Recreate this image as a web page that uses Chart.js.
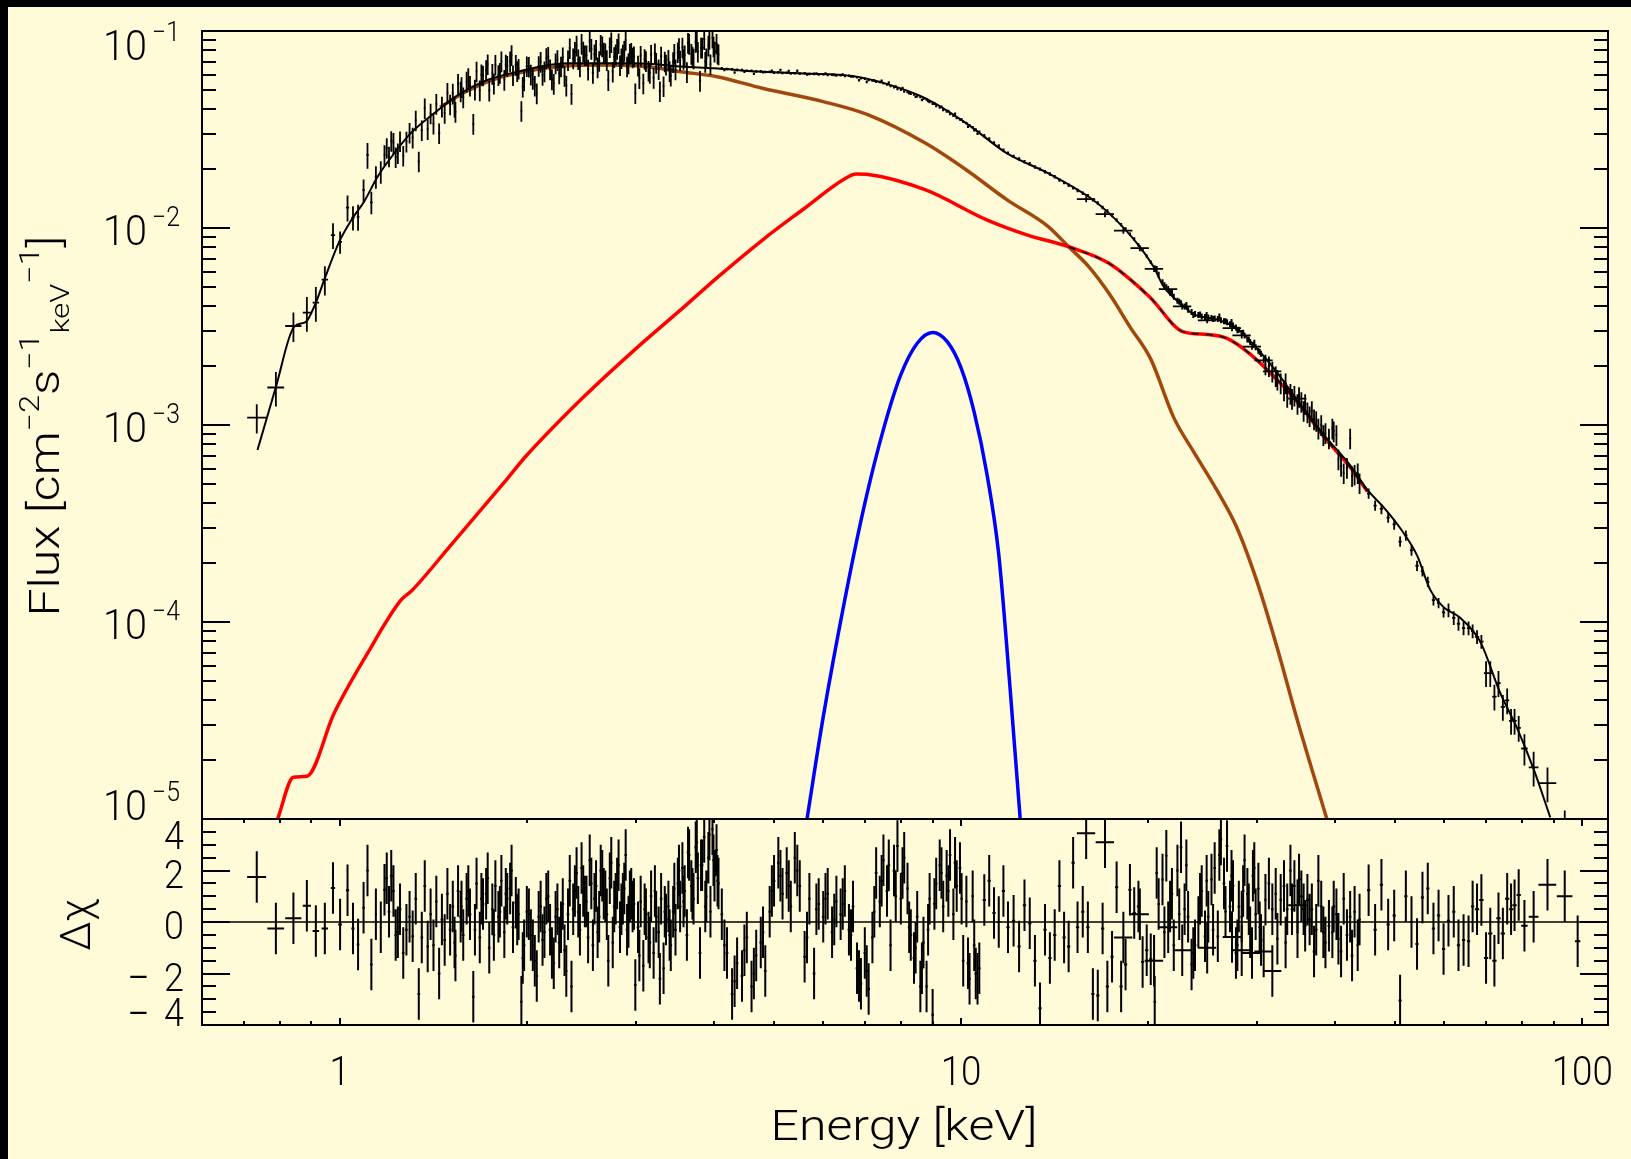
<!DOCTYPE html>
<html>
<head>
<meta charset="utf-8">
<script src="https://cdn.jsdelivr.net/npm/chart.js@4.4.0/dist/chart.umd.min.js"></script>
<style>
html, body { margin: 0; padding: 0; background: #000; overflow: hidden; }
#page { position: absolute; left: 8px; top: 7px; width: 1623px; height: 1152px; background: #fffad7; }
canvas { position: absolute; left: 0; top: 0; }
</style>
</head>
<body>
<div id="page"></div>
<canvas id="flux" width="1631" height="1159"></canvas>
<canvas id="resid" width="1631" height="1159"></canvas>
<script>
// axis ranges and tick labels
const E_MIN = 0.6, E_MAX = 110;
const fluxTickValues = [1e-5, 1e-4, 1e-3, 1e-2, 1e-1];
const fluxTickLabels = ["−5", "−4", "−3", "−2", "−1"];
const residTickValues = [4, 2, 0, -2, -4];
const energyTickValues = [1, 10, 100];
const energyTickLabels = ["1", "10", "100"];

// model curves
const modelE = [0.737, 0.789, 0.844, 0.882, 0.915, 0.946, 0.998, 1.048, 1.094, 1.150, 1.223, 1.301, 1.418, 1.566, 1.728, 1.932, 2.324, 2.976, 3.58, 4.0, 4.79, 5.57, 6.68, 7.54, 8.77, 10.2, 11.86, 13.8, 16.05, 17.3, 19.2, 20.4, 21.2, 22.6, 23.7, 25.8, 27.8, 30.0, 32.3, 34.8, 38.4, 42.4, 45.1, 47.9, 50.9, 54.2, 56.9, 59.8, 63.6, 68.5, 73.8, 78.5, 83.5, 88.8];
const modelF = [7.46e-4, 1.56e-3, 3.15e-3, 3.34e-3, 4.18e-3, 5.56e-3, 8.53e-3, 0.0112, 0.0136, 0.0182, 0.0239, 0.0303, 0.0382, 0.0483, 0.0564, 0.0621, 0.0686, 0.0686, 0.0659, 0.0647, 0.0621, 0.0609, 0.0591, 0.0542, 0.0455, 0.034, 0.0239, 0.019, 0.0144, 0.0119, 8.36e-3, 6.37e-3, 5.03e-3, 4.11e-3, 3.64e-3, 3.43e-3, 3.10e-3, 2.43e-3, 1.84e-3, 1.33e-3, 8.89e-4, 6.19e-4, 4.68e-4, 3.82e-4, 3.0e-4, 2.18e-4, 1.46e-4, 1.19e-4, 1.05e-4, 7.95e-5, 4.35e-5, 2.9e-5, 1.79e-5, 1.02e-5];

const diskE = [1.45, 1.6, 1.8, 2.0, 2.3, 2.7, 3.1, 3.54, 4.05, 4.79, 6.0, 7.09, 8.77, 10.2, 11.86, 13.8, 14.9, 16.05, 17.3, 18.7, 20.2, 22.0, 23.7, 25.8, 27.8, 30.0, 32.3, 34.8, 38.8];
const diskF = [0.041, 0.0495, 0.0578, 0.0625, 0.0665, 0.0672, 0.0660, 0.0621, 0.0586, 0.0512, 0.0438, 0.0375, 0.0269, 0.0197, 0.0139, 0.0102, 8.03e-3, 6.37e-3, 4.66e-3, 3.15e-3, 2.16e-3, 1.09e-3, 7.28e-4, 4.68e-4, 3.01e-4, 1.58e-4, 7.34e-5, 3.15e-5, 1.0e-5];

const comptE = [0.794, 0.842, 0.885, 0.979, 1.108, 1.254, 1.305, 1.5, 1.861, 1.98, 2.47, 3.0, 3.54, 4.05, 4.79, 5.6, 6.48, 6.78, 7.09, 8.77, 11.0, 12.8, 14.9, 17.3, 20.1, 22.8, 24.9, 26.8, 29.2, 32.3, 35.0, 38.4, 42.4, 45.1];
const comptF = [1.0e-5, 1.63e-5, 1.65e-5, 3.44e-5, 6.93e-5, 1.29e-4, 1.44e-4, 2.4e-4, 5.35e-4, 6.78e-4, 1.39e-3, 2.45e-3, 3.85e-3, 5.6e-3, 8.69e-3, 0.0126, 0.0177, 0.0188, 0.0187, 0.0156, 0.0110, 9.2e-3, 8.03e-3, 6.62e-3, 4.48e-3, 2.97e-3, 2.88e-3, 2.75e-3, 2.29e-3, 1.69e-3, 1.28e-3, 8.7e-4, 6.05e-4, 4.6e-4];

const lineE = [5.65, 6.0, 6.5, 7.0, 7.5, 8.0, 8.5, 9.0, 9.5, 10.0, 10.5, 11.0, 11.5, 12.0, 12.45];
const lineF = [1.0e-5, 3.3e-5, 1.3e-4, 4.0e-4, 9.5e-4, 1.8e-3, 2.6e-3, 2.95e-3, 2.65e-3, 1.95e-3, 1.16e-3, 5.7e-4, 2.2e-4, 4.5e-5, 1.0e-5];

// data: low-energy bins
const aE = [0.735, 0.789, 0.842, 0.885, 0.915, 0.946, 0.975, 1.001, 1.029, 1.05, 1.07, 1.092, 1.108, 1.124, 1.143, 1.164];
const aF = [1.09e-3, 1.55e-3, 3.18e-3, 3.72e-3, 4.18e-3, 5.47e-3, 9.2e-3, 8.5e-3, 0.0127, 0.0113, 0.0114, 0.0156, 0.0235, 0.0135, 0.0182, 0.0193];
const aErr = [0.17, 0.20, 0.17, 0.20, 0.20, 0.17, 0.15, 0.13, 0.15, 0.14, 0.15, 0.13, 0.15, 0.13, 0.13, 0.13];
const aW = [0.035, 0.031, 0.03, 0.015, 0.012, 0.012, 0.008, 0.007, 0.006, 0.006, 0.005, 0.005, 0.005, 0.005, 0.004, 0.004];
const aRes = [1.75, -0.25, 0.15, 0.63, -0.35, -0.25, 1.32, -0.1, 1.23, -0.25, -0.87, 0.55, 2.0, -1.65, 0.3, -0.2];

// data: 1.2-4 keV
const bE = [1.18, 1.19, 1.20, 1.21, 1.22, 1.23, 1.24, 1.25, 1.265, 1.28, 1.295, 1.31, 1.325, 1.34, 1.355, 1.37, 1.385, 1.40, 1.415, 1.43, 1.445, 1.46, 1.475, 1.49, 1.505, 1.52, 1.535, 1.55, 1.565, 1.58,
  1.60, 1.62, 1.64, 1.66, 1.68, 1.70, 1.72, 1.74, 1.76, 1.78, 1.80, 1.82, 1.84, 1.86, 1.88, 1.90, 1.92, 1.94, 1.96, 1.98, 2.00,
  2.03, 2.06, 2.09, 2.12, 2.15, 2.18, 2.21, 2.24, 2.27, 2.30, 2.33, 2.36, 2.39, 2.42, 2.45, 2.48, 2.51, 2.54, 2.57, 2.60, 2.63, 2.66, 2.69, 2.72, 2.75, 2.78, 2.81, 2.84, 2.87, 2.90, 2.93, 2.96, 2.99,
  3.02, 3.05, 3.08, 3.11, 3.14, 3.17, 3.20, 3.23, 3.26, 3.29, 3.32, 3.35, 3.38, 3.41, 3.44, 3.47, 3.50, 3.53, 3.56, 3.59, 3.62, 3.65, 3.68, 3.71, 3.74, 3.77, 3.80, 3.83, 3.86, 3.89, 3.92, 3.95, 3.98, 4.01, 4.04, 4.07];
const bF = [0.0235, 0.0255, 0.0231, 0.0277, 0.0271, 0.0229, 0.0240, 0.0276, 0.0233, 0.0275, 0.0305, 0.0288, 0.0352, 0.0218, 0.0314, 0.0406, 0.0318, 0.0382, 0.0339, 0.0427, 0.0303, 0.0414, 0.0384, 0.0486, 0.0424, 0.0482, 0.0389, 0.0540, 0.0494, 0.0461,
  0.0554, 0.0528, 0.0338, 0.0624, 0.0500, 0.0595, 0.0634, 0.0499, 0.0607, 0.0675, 0.0598, 0.0702, 0.0566, 0.0666, 0.0702, 0.0597, 0.0674, 0.0644, 0.0393, 0.0562, 0.0663,
  0.0601, 0.0528, 0.0665, 0.0599, 0.0729, 0.0639, 0.0540, 0.0712, 0.0661, 0.0592, 0.0711, 0.0480, 0.0786, 0.0720, 0.0861, 0.0754, 0.0638, 0.0812, 0.0762, 0.0655, 0.0853, 0.0779, 0.0713, 0.0828, 0.0622, 0.0762, 0.0868, 0.0728, 0.0794, 0.0661, 0.0768, 0.0735, 0.0484,
  0.0668, 0.0749, 0.0542, 0.0704, 0.0629, 0.0758, 0.0578, 0.0690, 0.0640, 0.0743, 0.0525, 0.0676, 0.0715, 0.0594, 0.0696, 0.0639, 0.0781, 0.0709, 0.0826, 0.0754, 0.0619, 0.0862, 0.0766, 0.0726, 0.0882, 0.0786, 0.0559, 0.0824, 0.0909, 0.0728, 0.0844, 0.0679, 0.0928, 0.0787, 0.0863, 0.0762];
const bRes = [1.25, 1.7, 0.4, 1.8, 1.2, -0.5,
  -0.4, 0.5, -1.2, -0.3, 0.2, -0.55, 0.9,
  -2.8, -0.6, 1.4, -0.95, 0.3, -0.9, 0.8, -2.0, 0.1, -0.7,
  1.1, -0.3, 0.6, -1.3, 1.2, 0.2, -0.5,
  0.9, 0.3, -2.9, 1.5, -0.6, 0.7, 1.1, -1.0, 0.5, 1.4, 0.2, 1.6, -0.4, 0.9, 1.3, -0.2, 0.75, 0.3, -3.1, -0.9, 0.4,
  -0.5, -1.5, 0.2, -0.7, 0.9, -0.3, -1.6, 0.5, -0.2, -1.1, 0.3,
  -2.5, 1.2, 0.4, 2.1, 0.8, -0.6, 1.5, 0.9, -0.4, 2.0, 1.1, 0.3, 1.7, -0.8, 0.9, 2.2, 0.5, 1.3, -0.3, 1.0, 0.6,
  -2.45,
  -0.2, 0.8, -1.7, 0.3, -0.6, 1.0, -1.2, 0.2, -0.4, 0.9, -1.8, 0.1, 0.6, -0.9, 0.4, -0.3,
  1.5, 0.6, 2.1, 1.2, -0.5, 2.6, 1.4, 0.9, 2.9, 1.7, -1.2, 2.2, 3.3, 1.0, 2.5, 0.4, 3.6, 1.8, 2.8, 1.5];

// data: 1.5-4 keV, second detector
const b2E = [1.53, 1.57, 1.61, 1.65, 1.69, 1.73, 1.77, 1.81, 1.85, 1.89, 1.93, 1.97,
  2.015, 2.045, 2.075, 2.105, 2.135, 2.165, 2.195, 2.225, 2.255, 2.285, 2.315, 2.345, 2.375, 2.405, 2.435, 2.465, 2.495, 2.525, 2.555, 2.585, 2.615, 2.645, 2.675, 2.705, 2.735, 2.765, 2.795, 2.825, 2.855, 2.885, 2.915, 2.945, 2.975,
  3.035, 3.095, 3.155, 3.215, 3.275, 3.335, 3.395, 3.455, 3.515, 3.575, 3.635, 3.695, 3.755, 3.815, 3.875, 3.935, 3.995, 4.055];
const b2F = [0.0413, 0.0520, 0.0578, 0.0505, 0.0603, 0.0679, 0.0541, 0.0614, 0.0677, 0.0755, 0.0627, 0.0522,
  0.0659, 0.0572, 0.0483, 0.0698, 0.0625, 0.0740, 0.0569, 0.0686, 0.0610, 0.0736, 0.0528, 0.0818, 0.0727, 0.0844, 0.0662, 0.0787, 0.0754, 0.0886, 0.0614, 0.0804, 0.0705, 0.0837, 0.0771, 0.0564, 0.0878, 0.0738, 0.0812, 0.0671, 0.0761, 0.0901, 0.0686, 0.0777, 0.0744,
  0.0577, 0.0722, 0.0613, 0.0772, 0.0495, 0.0701, 0.0627, 0.0768, 0.0820, 0.0722, 0.0871, 0.0743, 0.0897, 0.0824, 0.0698, 0.0914, 0.0835, 0.0770];
const b2Res = [-0.8, 0.6, 1.2, -0.3, 0.9, 1.7, -0.5, 0.4, 1.1, 2.0, 0.1, -1.4,
  0.3, -0.9, -2.1, 0.6, -0.4, 1.0, -1.2, 0.2, -0.8, 0.7, -1.9, 1.6, 0.5, 1.9, -0.3, 1.2, 0.8, 2.4, -0.9, 1.4, 0.2, 1.8, 1.0, -1.5, 2.3, 0.6, 1.5, -0.2, 0.9, 2.6, 0.0, 1.1, 0.7,
  -1.3, 0.5, -0.8, 1.2, -2.2, 0.4, -0.5, 1.3, 2.0, 0.8, 2.7, 1.1, 3.1, 2.2, 0.6, 3.4, 2.4, 1.6];

// data: 4-11 keV
const c1E = [4.12, 4.2, 4.28, 4.36, 4.44, 4.52, 4.6, 4.68, 4.76, 4.84, 4.92, 5.0, 5.08, 5.16, 5.24, 5.32, 5.4,
  5.5, 5.6, 5.7, 5.8, 5.9, 6.0, 6.1, 6.2, 6.3, 6.4, 6.5, 6.6, 6.7, 6.8, 6.9, 7.0, 7.1, 7.2, 7.3, 7.4, 7.5, 7.6, 7.7, 7.8, 7.9, 8.0, 8.1, 8.2, 8.3, 8.4, 8.5, 8.6, 8.7, 8.8, 8.9, 9.0,
  9.12, 9.24, 9.36, 9.48, 9.6, 9.72, 9.84, 9.96, 10.08, 10.2, 10.32, 10.44, 10.56, 10.7];
const c1F = [0.0646, 0.0641, 0.0640, 0.0635, 0.0634, 0.0628, 0.0629, 0.0623, 0.0624, 0.0619, 0.0621, 0.0615, 0.0617, 0.0612, 0.0614, 0.0609, 0.0611,
  0.0607, 0.0610, 0.0605, 0.0606, 0.0601, 0.0603, 0.0598, 0.0600, 0.0595, 0.0597, 0.0592, 0.0593, 0.0588, 0.0582, 0.0576, 0.0572, 0.0564, 0.0561, 0.0553, 0.0551, 0.0543, 0.0536, 0.0526, 0.0519, 0.0508, 0.0503, 0.0494, 0.0490, 0.0480, 0.0476, 0.0466, 0.0463, 0.0453, 0.0449, 0.0436, 0.0428,
  0.0417, 0.0409, 0.0397, 0.0391, 0.0379, 0.0372, 0.0362, 0.0356, 0.0346, 0.0341, 0.0331, 0.0325, 0.0316, 0.0308];
const c1Res = [0.3, -1.2, -2.8, -1.6, -2.1, -0.6, -2.5, -1.3, -0.8, -1.9, 0.4, 1.6, 2.3, 1.1, 1.9, 0.6, 2.5,
  1.4, -1.35, 0.9, -2.0, 0.7, 0.2, 1.1, -0.4, 0.8, 0.3, 1.2, -0.3, 0.6, -1.8, -2.4, -1.2, -2.6, -0.6, 1.9, 0.8, 2.4, 1.2, -0.9, 2.0, 2.95, 0.9, 2.5, 1.3, -0.5, -1.4, 0.2, -2.5, -0.8, -2.5, 0.9, -3.6,
  1.5, 2.2, 0.6, 1.8, 2.6, 0.3, 1.4, 2.1, -1.5, 0.8, -2.2, 1.0, -2.0, -1.8];

const c1bE = [4.16, 4.32, 4.48, 4.64, 4.80, 4.96, 5.12, 5.28, 5.45, 5.65, 5.85, 6.05, 6.25, 6.45, 6.65, 6.85, 7.05, 7.25, 7.45, 7.65, 7.85, 8.05, 8.25, 8.45, 8.65, 8.85, 9.06, 9.3, 9.54, 9.78, 10.02, 10.26, 10.5, 10.63];
const c1bF = [0.0634, 0.0616, 0.0621, 0.0607, 0.0617, 0.0629, 0.0633, 0.0626, 0.0629, 0.0602, 0.0609, 0.0609, 0.0599, 0.0601, 0.0587, 0.0562, 0.0552, 0.0560, 0.0559, 0.0547, 0.0522, 0.0513, 0.0484, 0.0464, 0.0446, 0.0442, 0.0428, 0.0413, 0.0392, 0.0380, 0.0355, 0.0327, 0.0314, 0.0301];
const c1bRes = [-0.9, -2.3, -1.1, -2.0, -0.4, 1.2, 1.8, 1.4, 2.0, -0.6, 0.5, 0.9, 0.1, 0.7, -0.5, -2.1, -1.9, 0.4, 1.6, 2.2, 1.0, 1.9, -0.2, -1.0, -1.8, -0.3, 0.7, 1.9, 1.2, 2.3, 0.9, -1.6, -0.9, -2.2];

// data: 11-20 keV
const c2E = [10.9, 11.1, 11.3, 11.5, 11.7, 11.9, 12.15, 12.4, 12.65, 12.9, 13.15, 13.4, 13.65, 13.9, 14.15, 14.4, 14.65, 14.9, 15.15, 15.4, 15.7, 16.0, 16.3, 16.6, 16.9, 17.2, 17.5, 17.8, 18.1, 18.4, 18.7, 19.0, 19.3, 19.6, 19.9, 20.2];
const c2F = [0.0294, 0.0283, 0.0270, 0.0261, 0.0248, 0.0240, 0.0231, 0.0224, 0.0217, 0.0212, 0.0204, 0.0199, 0.0193, 0.0188, 0.0182, 0.0175, 0.0170, 0.0165, 0.0160, 0.0155, 0.0150, 0.0146, 0.0139, 0.0134, 0.0127, 0.0122, 0.0116, 0.0110, 0.0104, 0.0099, 0.0093, 0.0088, 0.0082, 0.0077, 0.0072, 0.0067];
const c2Res = [0.85, 1.6, 0.35, 0, 1.2, -0.2, 0.05, -0.95, 0.65, -0.05, -1.5, -3.35, -0.3, -1.4, -0.5, 1.4, -0.6, -0.95, 2.3, -0.2, 0.4, -0.2, -2.8, -2.85, -0.25, -2.5, -1.35, 1.35, -2.5, -1.65, 1.25, 0.35, 0.6, -1.55, -1.1, -1.45];

// data: 20-31 keV
const c3E = [20.5, 20.8, 21.1, 21.4, 21.7, 22.0, 22.3, 22.6, 22.9, 23.2, 23.5, 23.8, 24.1, 24.4, 24.7, 25.0, 25.3, 25.6, 25.9, 26.2, 26.5, 26.8, 27.1, 27.4, 27.7, 28.0, 28.3, 28.6, 28.9, 29.2, 29.5, 29.8, 30.1, 30.4];
const c3F = [6.25e-3, 5.80e-3, 5.30e-3, 5.00e-3, 4.70e-3, 4.48e-3, 4.28e-3, 4.15e-3, 4.00e-3, 3.85e-3, 3.75e-3, 3.66e-3, 3.62e-3, 3.56e-3, 3.54e-3, 3.52e-3, 3.50e-3, 3.47e-3, 3.45e-3, 3.40e-3, 3.36e-3, 3.33e-3, 3.25e-3, 3.20e-3, 3.13e-3, 3.05e-3, 2.93e-3, 2.85e-3, 2.72e-3, 2.64e-3, 2.55e-3, 2.48e-3, 2.38e-3, 2.30e-3];
const c3Res = [-3.1, 0.7, 1.65, 2.57, 0.6, -0.9, 2.0, 2.9, 0.5, 0.2, -1.65, -0.9, 0.0, 1.2, -0.55, 0.2, 1.65, 2.1, -0.55, 3.2, 1.5, 2.95, 0.6, 1.4, -1.2, 0.6, 0.2, 2.4, 1.1, -0.4, 1.8, 0.3, 1.3, -0.7];

const c3bE = [20.65, 21.25, 21.85, 22.45, 23.05, 23.65, 24.25, 24.85, 25.45, 26.05, 26.65, 27.25, 27.85, 28.45, 29.05, 29.65, 30.25];
const c3bF = [6.2e-3, 5.12e-3, 4.69e-3, 4.22e-3, 4.07e-3, 3.62e-3, 3.64e-3, 3.62e-3, 3.45e-3, 3.56e-3, 3.36e-3, 3.34e-3, 3.03e-3, 2.94e-3, 2.72e-3, 2.62e-3, 2.35e-3];
const c3bRes = [1.9, -0.4, 1.1, 0.3, 2.2, -1.2, 0.9, 1.6, -0.3, 2.6, 0.4, 1.8, -0.9, 1.2, 0.5, 2.1, -0.2];

// data: wide bins 16-35 keV
const dE = [15.9, 17.05, 18.25, 19.4, 20.45, 21.55, 22.7, 24.9, 27.3, 28.3, 29.4, 30.7, 31.7, 34.8];
const dF = [0.0140, 0.01175, 9.7e-3, 7.9e-3, 6.2e-3, 4.9e-3, 4.0e-3, 3.4e-3, 3.1e-3, 2.85e-3, 2.5e-3, 2.13e-3, 1.87e-3, 1.36e-3];
const dRes = [3.45, 3.1, -0.6, 0.3, -1.5, -0.2, -1.1, -1.0, -0.58, -1.1, -1.2, -1.15, -1.9, 0.65];

// data: 31-44 keV
const fE = [30.9, 31.3, 31.7, 32.1, 32.3, 32.7, 33.1, 33.3, 33.5, 33.9, 34.1, 34.4, 34.8, 35.0, 35.3, 35.6, 35.8, 36.1, 36.4, 36.7, 37.0, 37.3, 37.6, 38.0, 38.3, 38.6, 39.1, 39.6, 39.8, 40.2, 40.5, 40.9, 41.3, 41.8, 42.3, 42.6, 43.0, 43.5, 43.8];
const fF = [2.03e-3, 1.99e-3, 1.87e-3, 1.77e-3, 1.70e-3, 1.63e-3, 1.50e-3, 1.63e-3, 1.39e-3, 1.44e-3, 1.36e-3, 1.41e-3, 1.28e-3, 1.39e-3, 1.31e-3, 1.18e-3, 1.28e-3, 1.16e-3, 1.11e-3, 1.18e-3, 1.07e-3, 1.05e-3, 9.6e-4, 1.0e-3, 8.9e-4, 9.1e-4, 8.55e-4, 9.6e-4, 9.3e-4, 8.9e-4, 6.7e-4, 6.2e-4, 5.7e-4, 6.07e-4, 8.55e-4, 5.5e-4, 5.6e-4, 5.7e-4, 5.07e-4];
const fRes = [0.86, 1.5, 0.5, 1.1, -0.65, 0.86, 1.4, -0.8, 0.5, 2.0, 0.5, 1.4, -0.4, 1.65, 1.0, 0.5, -0.15, 0.86, 0.1, 0.5, -1.15, -0.3, 1.6, 0.6, -0.4, -0.8, -0.15, -0.4, 0.6, 0.3, -0.65, -1.15, 0.9, -0.5, 0.2, -1.3, 0.4, -0.9, 0.1];

// data: 45-100 keV
const gE = [45.3, 46.4, 47.5, 48.7, 49.8, 50.9, 52.0, 53.1, 54.2, 55.3, 56.4, 57.6, 58.7, 59.8, 60.9, 62.1, 63.2, 64.4, 65.6, 66.6, 67.7, 68.8, 70.0, 71.1, 72.2, 73.3, 74.5, 75.7, 76.8, 77.8, 79.0, 80.7, 83.5, 87.9, 93.7, 98.3];
const gF = [4.49e-4, 3.9e-4, 3.75e-4, 3.39e-4, 3.13e-4, 2.56e-4, 2.75e-4, 2.31e-4, 1.93e-4, 1.81e-4, 1.60e-4, 1.29e-4, 1.25e-4, 1.12e-4, 1.15e-4, 1.05e-4, 9.8e-5, 9.3e-5, 9.3e-5, 9.0e-5, 8.4e-5, 7.95e-5, 5.5e-5, 5.5e-5, 4.18e-5, 4.9e-5, 3.71e-5, 4.0e-5, 3.15e-5, 3.15e-5, 2.9e-5, 2.28e-5, 1.83e-5, 1.52e-5, 8.5e-6, 5.5e-6];
const gErr = [0.06, 0.06, 0.06, 0.06, 0.06, 0.06, 0.06, 0.06, 0.06, 0.06, 0.06, 0.06, 0.06, 0.06, 0.08, 0.08, 0.08, 0.08, 0.08, 0.08, 0.08, 0.08, 0.15, 0.15, 0.15, 0.15, 0.15, 0.15, 0.15, 0.15, 0.15, 0.18, 0.2, 0.2, 0.3, 0.35];
const gW = [0.006, 0.006, 0.006, 0.006, 0.006, 0.006, 0.006, 0.006, 0.006, 0.006, 0.006, 0.006, 0.006, 0.006, 0.006, 0.006, 0.006, 0.006, 0.006, 0.006, 0.008, 0.008, 0.008, 0.008, 0.008, 0.008, 0.008, 0.008, 0.008, 0.008, 0.008, 0.012, 0.018, 0.033, 0.029, 0.01];
const gRes = [1.23, -0.3, 1.45, -0.1, 0.25, -3.05, 1.0, 0, -0.85, 0.95, 1.3, -0.25, 0.25, -1.05, 0.05, 0.4, -0.9, -0.7, -0.75, 0.6, 0.5, 0.85, -1.4, -0.45, -1.5, 0.15, -0.45, 0.9, 0.5, 0.65, 1.05, -0.15, 0.2, 1.45, 1.0, -0.75];

const FONT = "Roboto, 'DejaVu Sans', sans-serif";
const BROWN = "#a0480e";

const pick = (v, i) => (Array.isArray(v) ? v[i] : v);
const curve = (E, F) => E.map((e, i) => ({ x: e, y: F[i] }));

// vertical and horizontal bar of each bin, broken apart by gaps
function fluxBars(E, F, err, w) {
    const pts = [];
    E.forEach((e, i) => {
        const f = F[i], de = pick(err, i), dw = pick(w, i);
        pts.push({ x: e, y: f * (1 - de) }, { x: e, y: f * (1 + de) }, { x: e, y: null });
        pts.push({ x: e * (1 - dw), y: f }, { x: e * (1 + dw), y: f }, { x: e, y: null });
    });
    return pts;
}
function residBars(E, R, w) {
    const pts = [];
    E.forEach((e, i) => {
        const r = R[i], dw = pick(w, i);
        pts.push({ x: e, y: r - 1 }, { x: e, y: r + 1 }, { x: e, y: null });
        pts.push({ x: e * (1 - dw), y: r }, { x: e * (1 + dw), y: r }, { x: e, y: null });
    });
    return pts;
}

const BAR = { borderColor: "#000", borderWidth: 1.8, pointRadius: 0, spanGaps: false, tension: 0, order: 1 };
const RBAR = { ...BAR, borderWidth: 2 };
const SMOOTH = { pointRadius: 0, cubicInterpolationMode: "monotone", fill: false };

function setFont(ctx, size) { ctx.font = `300 ${size}px ${FONT}`; }
function text(ctx, s, x, y, size, align, sx = 0.92) {
    ctx.save();
    setFont(ctx, size);
    ctx.translate(x, y);
    ctx.scale(sx, 1);
    ctx.textAlign = align;
    ctx.textBaseline = "alphabetic";
    ctx.fillText(s, 0, 0);
    ctx.restore();
}
// glyph stretched so its ink spans inkW, ink right edge at right, ink centred on cy
function textInk(ctx, s, right, cy, size, inkW) {
    ctx.save();
    setFont(ctx, size);
    ctx.textAlign = "left";
    ctx.textBaseline = "alphabetic";
    const m = ctx.measureText(s);
    const w = m.actualBoundingBoxLeft + m.actualBoundingBoxRight;
    const sx = w > 0 ? inkW / w : 1;
    const base = cy + (m.actualBoundingBoxAscent - m.actualBoundingBoxDescent) / 2;
    ctx.translate(right - m.actualBoundingBoxRight * sx, base);
    ctx.scale(sx, 1);
    ctx.fillText(s, 0, 0);
    ctx.restore();
}
function textFit(ctx, s, cx, y, size, width) {
    ctx.save();
    setFont(ctx, size);
    const w = ctx.measureText(s).width;
    ctx.translate(cx, y);
    ctx.scale(width / w, 1);
    ctx.textAlign = "center";
    ctx.fillText(s, 0, 0);
    ctx.restore();
}
// rotated text read bottom to top, baseline at x = bx, centred on y = cy
function vertRuns(ctx, runs, bx, cy, fit) {
    ctx.save();
    ctx.translate(bx, cy);
    ctx.rotate(-Math.PI / 2);
    let total = 0;
    runs.forEach(r => { setFont(ctx, r.size); r.w = ctx.measureText(r.t).width; total += r.w; });
    ctx.scale(fit ? fit / total : 1, 1);
    let pos = -total / 2;
    ctx.textAlign = "left";
    runs.forEach(r => { setFont(ctx, r.size); ctx.fillText(r.t, pos, r.dy); pos += r.w; });
    ctx.restore();
}
const clamp = (v, lo, hi) => Math.max(lo, Math.min(hi, v));

const idlAxes = {
    id: "idlAxes",
    afterDraw(chart, args, opts) {
        const { ctx, chartArea: a, scales } = chart;
        const xs = scales.x, ys = scales.y;
        const line = (x1, y1, x2, y2) => { ctx.beginPath(); ctx.moveTo(x1, y1); ctx.lineTo(x2, y2); ctx.stroke(); };
        ctx.save();
        ctx.strokeStyle = "#000";
        ctx.fillStyle = "#000";
        ctx.lineWidth = 2;
        ctx.strokeRect(a.left, a.top, a.right - a.left, a.bottom - a.top);

        if (opts.panel === "flux") {
            for (let k = -5; k <= -1; k++) {
                for (let m = 1; m <= 9; m++) {
                    const v = m * Math.pow(10, k);
                    if (v > ys.max * 1.0001) break;
                    const y = Math.round(ys.getPixelForValue(v));
                    const len = m === 1 ? 28 : 14;
                    line(a.left, y, a.left + len, y);
                    line(a.right, y, a.right - len, y);
                }
            }
            fluxTickValues.forEach((v, i) => {
                const cy = clamp(ys.getPixelForValue(v) + 2, a.top + 14, a.bottom - 14);
                text(ctx, "10", 147, cy + 15, 43, "right");
                text(ctx, fluxTickLabels[i], 152, cy - 4, 27, "left");
            });
            vertRuns(ctx, [
                { t: "Flux [cm", size: 42, dy: 0 },
                { t: "−2", size: 27, dy: -20 },
                { t: "s", size: 42, dy: 0 },
                { t: "−1", size: 27, dy: -20 },
                { t: "keV", size: 26, dy: 10 },
                { t: "−1", size: 27, dy: -20 },
                { t: "]", size: 42, dy: 0 },
            ], 59, 426, 381);
        } else {
            for (let v = -3.5; v <= 3.5; v += 0.5) {
                const y = Math.round(ys.getPixelForValue(v));
                const len = v % 2 === 0 ? 28 : 14;
                line(a.left, y, a.left + len, y);
                line(a.right, y, a.right - len, y);
            }
            for (let k = -1; k <= 2; k++) {
                for (let m = 1; m <= 9; m++) {
                    const v = m * Math.pow(10, k);
                    if (v <= xs.min || v >= xs.max) continue;
                    const x = Math.round(xs.getPixelForValue(v));
                    const len = m === 1 ? 7 : 4;
                    line(x, a.top, x, a.top + len);
                    line(x, a.bottom, x, a.bottom - len);
                }
            }
            residTickValues.forEach(v => {
                const cy = clamp(ys.getPixelForValue(v) + 3, a.top + 16, a.bottom - 13);
                text(ctx, String(Math.abs(v)), 184, cy + 14, 39, "right");
                if (v < 0) textInk(ctx, "—", 147, cy, 44, 17);
            });
            energyTickValues.forEach((v, i) => {
                text(ctx, energyTickLabels[i], xs.getPixelForValue(v), 1085, 40, "center");
            });
            textFit(ctx, "Energy [keV]", 904, 1140, 42, 267);
            vertRuns(ctx, [{ t: "Δχ", size: 42, dy: 0 }], 90, 925);
        }
        ctx.restore();
    },
};

const common = {
    responsive: false,
    animation: false,
    events: [],
    plugins: { legend: { display: false }, tooltip: { enabled: false } },
};

new Chart(document.getElementById("flux"), {
    type: "line",
    data: {
        datasets: [
            { ...SMOOTH, data: curve(modelE, modelF), borderColor: "#000", borderWidth: 2, order: 0 },
            { ...BAR, data: fluxBars(aE, aF, aErr, aW) },
            { ...BAR, data: fluxBars(bE, bF, 0.12, 0.004) },
            { ...BAR, data: fluxBars(b2E, b2F, 0.12, 0.004) },
            { ...BAR, data: fluxBars(c1E, c1F, 0.015, 0.004), borderWidth: 2 },
            { ...BAR, data: fluxBars(c1bE, c1bF, 0.015, 0.004), borderWidth: 2 },
            { ...BAR, data: fluxBars(c2E, c2F, 0.02, 0.004), borderWidth: 2 },
            { ...BAR, data: fluxBars(c3E, c3F, 0.035, 0.004), borderWidth: 2 },
            { ...BAR, data: fluxBars(c3bE, c3bF, 0.035, 0.004), borderWidth: 2 },
            { ...BAR, data: fluxBars(dE, dF, 0.035, 0.034) },
            { ...BAR, data: fluxBars(fE, fF, 0.12, 0.004) },
            { ...BAR, data: fluxBars(gE, gF, gErr, gW) },
            { ...SMOOTH, data: curve(comptE, comptF).filter(p => p.x >= 14.9), borderColor: "#000", borderWidth: 1.5, borderDash: [7, 7], order: 2 },
            { ...SMOOTH, data: curve(comptE, comptF), borderColor: "#ff0000", borderWidth: 3.5, order: 3 },
            { ...SMOOTH, data: curve(lineE, lineF), borderColor: "#0000ff", borderWidth: 3.5, order: 4 },
            { ...SMOOTH, data: curve(diskE, diskF), borderColor: BROWN, borderWidth: 3.5, order: 5 },
        ],
    },
    options: {
        ...common,
        layout: { padding: { left: 202, right: 23, top: 31, bottom: 340 } },
        scales: {
            x: { type: "logarithmic", min: E_MIN, max: E_MAX, display: false },
            y: { type: "logarithmic", min: 1e-5, max: 1e-1, display: false },
        },
        plugins: { ...common.plugins, idlAxes: { panel: "flux" } },
    },
    plugins: [idlAxes],
});

new Chart(document.getElementById("resid"), {
    type: "line",
    data: {
        datasets: [
            { data: [{ x: E_MIN, y: 0 }, { x: E_MAX, y: 0 }], borderColor: "#000", borderWidth: 1.5, pointRadius: 0, order: 0 },
            { ...RBAR, data: residBars(aE, aRes, aW) },
            { ...RBAR, data: residBars(bE, bRes, 0.005) },
            { ...RBAR, data: residBars(b2E, b2Res, 0.005) },
            { ...RBAR, data: residBars(c1E, c1Res, 0.005) },
            { ...RBAR, data: residBars(c1bE, c1bRes, 0.005) },
            { ...RBAR, data: residBars(c2E, c2Res, 0.006) },
            { ...RBAR, data: residBars(c3E, c3Res, 0.005) },
            { ...RBAR, data: residBars(c3bE, c3bRes, 0.005) },
            { ...RBAR, data: residBars(dE, dRes, 0.034) },
            { ...RBAR, data: residBars(fE, fRes, 0.005) },
            { ...RBAR, data: residBars(gE, gRes, gW) },
        ],
    },
    options: {
        ...common,
        layout: { padding: { left: 202, right: 23, top: 819, bottom: 134 } },
        scales: {
            x: { type: "logarithmic", min: E_MIN, max: E_MAX, display: false },
            y: { type: "linear", min: -4, max: 4, display: false },
        },
        plugins: { ...common.plugins, idlAxes: { panel: "resid" } },
    },
    plugins: [idlAxes],
});
</script>
</body>
</html>
